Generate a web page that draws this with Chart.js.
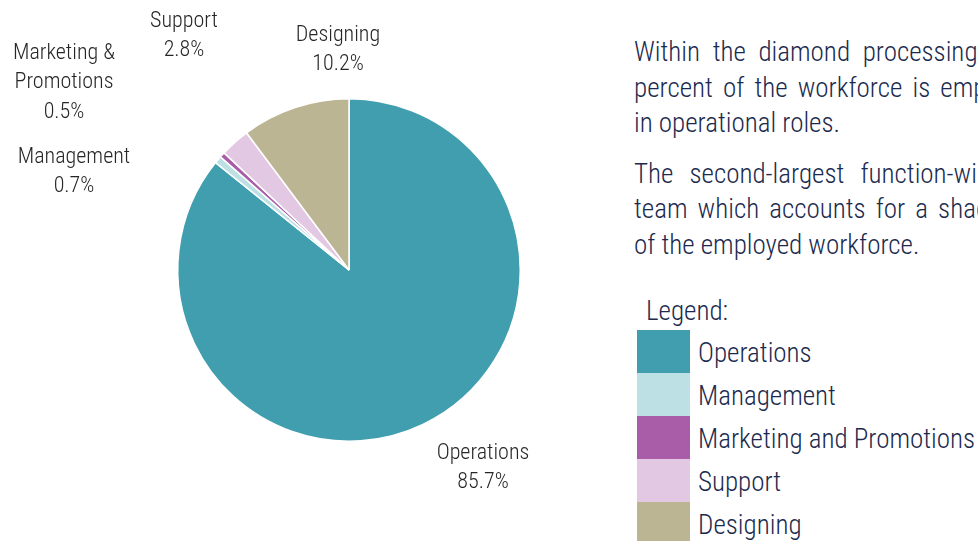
<!DOCTYPE html>
<html>
<head>
<meta charset="utf-8">
<script src="https://cdn.jsdelivr.net/npm/chart.js@4.4.1/dist/chart.umd.min.js"></script>
<style>
  html, body { margin:0; padding:0; width:978px; height:541px; overflow:hidden; background:#fff; }
  body { position:relative; font-family:"Roboto Condensed","Roboto",sans-serif; font-weight:300; font-stretch:condensed; }
  #chartWrap { position:absolute; left:0; top:0; width:620px; height:541px; }
  #para { position:absolute; left:634px; top:35px; color:#1b2a4e; font-size:27px; line-height:35.5px; white-space:nowrap; }
  #para .gap { height:15px; }
  #legendTitle { position:absolute; left:646px; top:294px; color:#1b2a4e; font-size:27px; line-height:34px; }
  #legend { position:absolute; left:637px; top:330px; }
  .row { display:flex; align-items:center; height:43px; }
  .sw { width:53px; height:43px; }
  .lt { margin-left:8px; color:#1b2a4e; font-size:27px; white-space:nowrap; padding-top:2px; }
</style>
</head>
<body>
<div id="chartWrap"><canvas id="c" width="620" height="541"></canvas></div>
<div id="para">
  <div style="word-spacing:6.5px">Within the diamond processing industry, 85.7</div>
  <div style="word-spacing:4px">percent of the workforce is employed</div>
  <div>in operational roles.</div>
  <div class="gap"></div>
  <div style="word-spacing:10px">The second-largest function-wise is the design</div>
  <div style="word-spacing:4px">team which accounts for a shade over 10 percent</div>
  <div>of the employed workforce.</div>
</div>
<div id="legendTitle">Legend:</div>
<div id="legend"></div>
<script>
// ---- data ----
const categories = ["Operations", "Management", "Marketing and Promotions", "Support", "Designing"];
const pieLabels = [["Operations"], ["Management"], ["Marketing &", "Promotions"], ["Support"], ["Designing"]];
const shares = [85.7, 0.7, 0.5, 2.8, 10.2];
const colors = ["#409eaf", "#bde0e4", "#a95da8", "#e3c8e3", "#bcb594"];

// label placement relative to pie centre (first line centre), px
const labelOffsets = [[134, 183], [-275, -113], [-285, -217], [-165, -249], [-11, -235]];
const lineStep = 29.5;
const labelFont = '300 22px "Roboto Condensed","Roboto",sans-serif';

const labelPlugin = {
  id: 'outerLabels',
  afterDatasetsDraw(chart) {
    const ctx = chart.ctx;
    const arc = chart.getDatasetMeta(0).data[0];
    const cx = arc.x, cy = arc.y;
    ctx.save();
    ctx.font = labelFont;
    ctx.fillStyle = '#262626';
    ctx.textAlign = 'center';
    ctx.textBaseline = 'middle';
    chart.data.datasets[0].data.forEach((v, i) => {
      const lines = pieLabels[i].concat([v.toFixed(1) + '%']);
      const [dx, dy] = labelOffsets[i];
      lines.forEach((t, k) => ctx.fillText(t, cx + dx, cy + dy + k * lineStep));
    });
    ctx.restore();
  }
};

function draw() {
  new Chart(document.getElementById('c'), {
    type: 'pie',
    data: {
      labels: categories,
      datasets: [{ data: shares, backgroundColor: colors, borderColor: '#ffffff', borderWidth: 1.5 }]
    },
    options: {
      responsive: false,
      animation: false,
      layout: { padding: { left: 177, right: 99, top: 98, bottom: 99 } },
      plugins: { legend: { display: false }, tooltip: { enabled: false } }
    },
    plugins: [labelPlugin]
  });
}

const legend = document.getElementById('legend');
categories.forEach((c, i) => {
  const row = document.createElement('div');
  row.className = 'row';
  row.innerHTML = '<div class="sw" style="background:' + colors[i] + '"></div><div class="lt">' + c + '</div>';
  legend.appendChild(row);
});

if (document.fonts && document.fonts.load) {
  document.fonts.load(labelFont).then(draw, draw);
} else { draw(); }
</script>
</body>
</html>
